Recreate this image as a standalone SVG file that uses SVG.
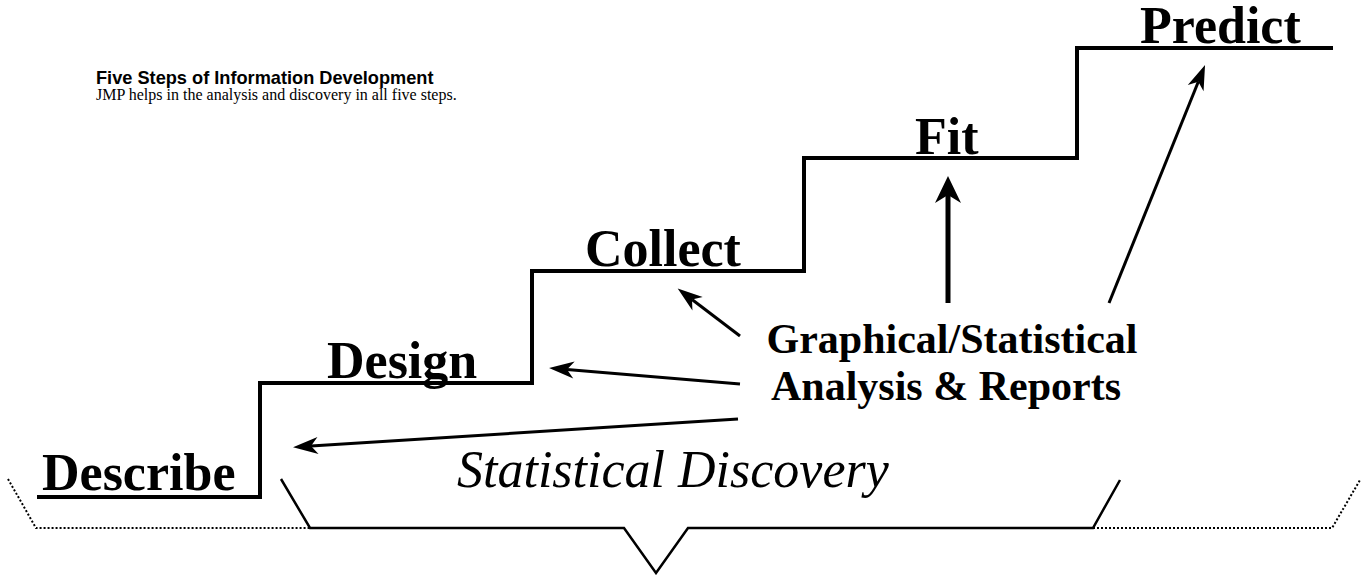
<svg xmlns="http://www.w3.org/2000/svg" width="1361" height="575" viewBox="0 0 1361 575">
<style>
.step{font-family:"Liberation Serif","Times New Roman",serif;font-weight:bold;font-size:52px;fill:#000}
.lbl{font-family:"Liberation Serif","Times New Roman",serif;font-weight:bold;font-size:42px;fill:#000;text-anchor:middle}
.disc{font-family:"Liberation Serif","Times New Roman",serif;font-style:italic;font-size:52px;fill:#000}
.title{font-family:"Liberation Sans",Arial,sans-serif;font-weight:bold;font-size:18.2px;fill:#000}
.sub{font-family:"Liberation Serif","Times New Roman",serif;font-size:16px;fill:#000}
.stair{fill:none;stroke:#000;stroke-width:4;stroke-linejoin:miter}
.brace{fill:none;stroke:#000;stroke-width:2.5;stroke-linejoin:miter}
.dots{fill:none;stroke:#000;stroke-width:2;stroke-dasharray:2 2}
.thin{fill:none;stroke:#000;stroke-width:3}
.thick{fill:none;stroke:#000;stroke-width:5}
</style>
<defs>
<marker id="ah" markerUnits="userSpaceOnUse" viewBox="-30 -12 32 24" refX="-18" refY="0" markerWidth="32" markerHeight="24" orient="auto" overflow="visible">
<path d="M0 0 L-25 -8.5 L-18 0 L-25 8.5 Z" fill="#000"/>
</marker>
<marker id="ahb" markerUnits="userSpaceOnUse" viewBox="-30 -15 32 30" refX="-19" refY="0" markerWidth="32" markerHeight="30" orient="auto" overflow="visible">
<path d="M0 0 L-27 -13 L-19 0 L-27 13 Z" fill="#000"/>
</marker>
</defs>
<g id="header">
<text class="title" x="96" y="84">Five Steps of Information Development</text>
<text class="sub" x="96" y="100">JMP helps in the analysis and discovery in all five steps.</text>
</g>
<g id="stairs">
<path class="stair" d="M37 497 H260 V383 H532 V271 H804 V158 H1077 V48 H1333"/>
</g>
<g id="describe"><text class="step" x="42" y="490">Describe</text></g>
<g id="design"><text class="step" x="327" y="378">Design</text></g>
<g id="collect"><text class="step" x="585" y="266">Collect</text></g>
<g id="fit"><text class="step" x="915" y="154">Fit</text></g>
<g id="predict"><text class="step" x="1140" y="43">Predict</text></g>
<g id="analysis">
<text class="lbl" x="952" y="353">Graphical/Statistical</text>
<text class="lbl" x="946" y="400">Analysis &amp; Reports</text>
</g>
<g id="discovery">
<path class="dots" d="M8 479 L36 528 H310"/>
<path class="dots" d="M1093 528 H1332 L1360 480"/>
<path class="brace" d="M281 479 L310 528 H624 L656 573 L688 528 H1093 L1120 480"/>
<text class="disc" x="457" y="487">Statistical Discovery</text>
</g>
<g id="connectors">
<line class="thin" x1="740" y1="336" x2="692" y2="299.5" marker-end="url(#ah)"/>
<line class="thin" x1="740" y1="384" x2="567" y2="369.5" marker-end="url(#ah)"/>
<line class="thin" x1="738" y1="419" x2="311" y2="446" marker-end="url(#ah)"/>
<line class="thick" x1="948" y1="303" x2="948" y2="195" marker-end="url(#ahb)"/>
<line class="thin" x1="1109" y1="303" x2="1198.3" y2="81.7" marker-end="url(#ah)"/>
</g>
</svg>
